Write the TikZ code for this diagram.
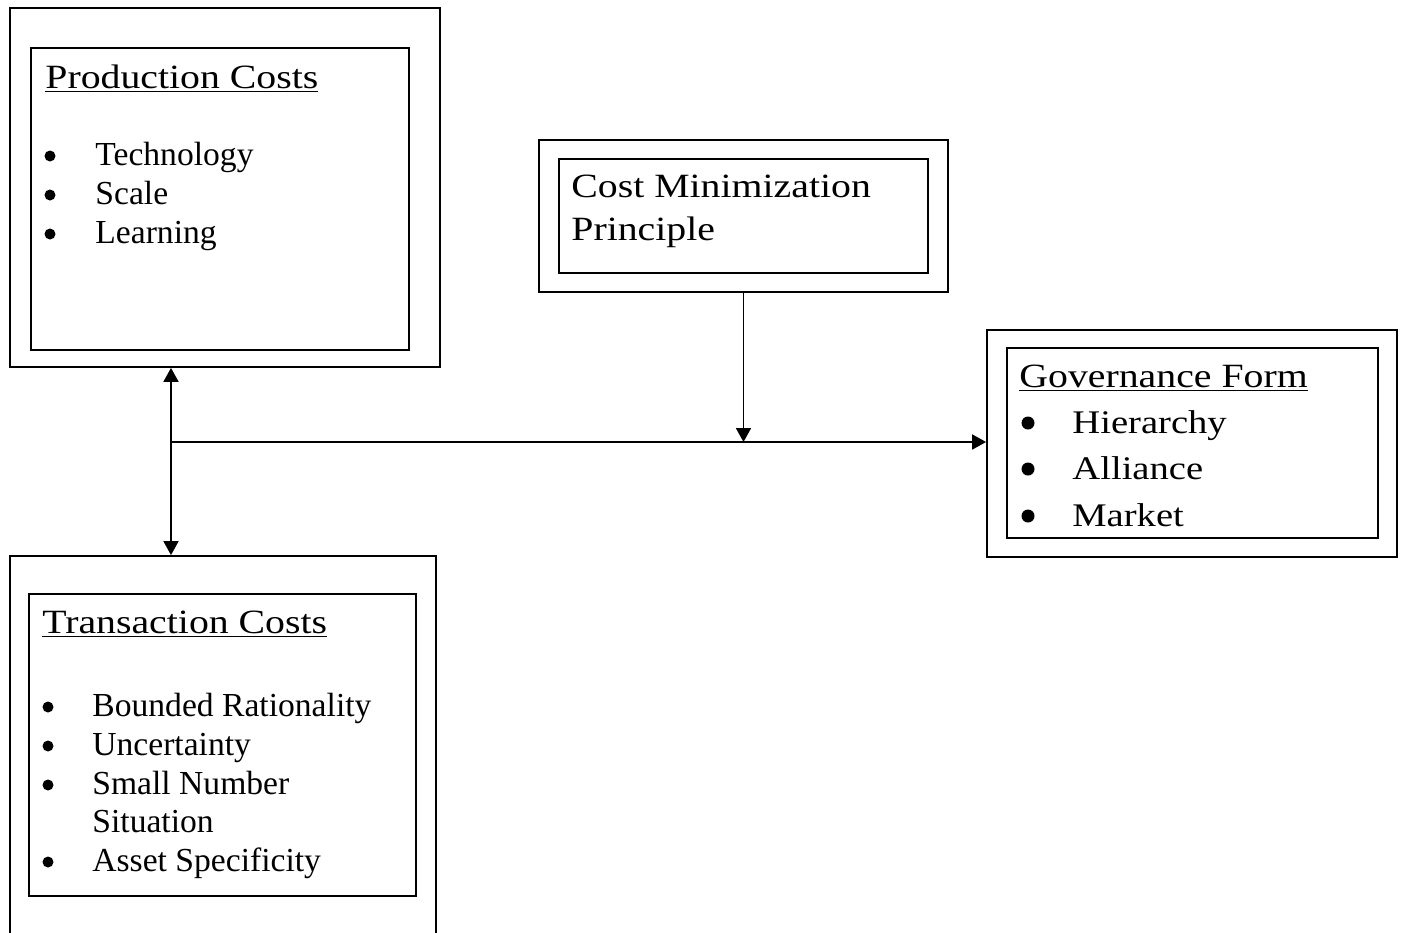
\documentclass[tikz,border=0pt]{standalone}
\usepackage{fontspec}
\setmainfont{Liberation Serif}
\newfontfamily\widefont[FakeStretch=1.17]{Liberation Serif}
\usetikzlibrary{arrows.meta}

\tikzset{
  box/.style={draw, line width=0.9pt, inner sep=0pt},
  ttl/.style={anchor=base west, inner sep=0pt, font=\widefont\fontsize{17}{20}\selectfont},
  itm/.style={anchor=base west, inner sep=0pt, font=\fontsize{16.8}{20}\selectfont},
  bigitm/.style={anchor=base west, inner sep=0pt, font=\widefont\fontsize{16.5}{20}\selectfont},
  link/.style={line width=0.9pt},
  >={Triangle[width=7.5pt,length=7pt]}
}

\begin{document}
\begin{tikzpicture}[x=0.5pt,y=-0.5pt]
\useasboundingbox (0,0) rectangle (1402,932);
\clip (0,0) rectangle (1402,932);

% frames
\node[box, minimum width=215pt, minimum height=179.5pt] (prodOut) at (225,187.5) {};
\node[box, minimum width=189pt, minimum height=151pt] (prodIn) at (220,199) {};

\node[box, minimum width=213pt, minimum height=202pt] (transOut) at (223,758) {};
\node[box, minimum width=193.5pt, minimum height=151pt] (transIn) at (222.5,745) {};

\node[box, minimum width=204.5pt, minimum height=76pt] (costOut) at (743.5,216) {};
\node[box, minimum width=184.5pt, minimum height=57pt] (costIn) at (743.5,216) {};

\node[box, minimum width=205pt, minimum height=113.5pt] (govOut) at (1192,443.5) {};
\node[box, minimum width=185.5pt, minimum height=95pt] (govIn) at (1192.5,443) {};

% texts
\node[ttl] (prodTitle) at (45,88) {\underline{Production Costs}};
\foreach \y/\t [count=\i] in {165/Technology, 204/Scale, 243/Learning} {
  \node[itm] (prod\i) at (95,\y) {\t};
  \fill (prod\i.base west) ++(-45,-9) circle (2.75pt);
}

\node[ttl] (transTitle) at (42,633) {\underline{Transaction Costs}};
\foreach \y/\t [count=\i] in {716/Bounded Rationality, 755/Uncertainty, 794/Small Number} {
  \node[itm] (trans\i) at (92,\y) {\t};
  \fill (trans\i.base west) ++(-44,-9) circle (2.75pt);
}
\node[itm] (trans4) at (92,832) {Situation};
\node[itm] (trans5) at (92,871) {Asset Specificity};
\fill (trans5.base west) ++(-44,-9) circle (2.75pt);

\node[ttl] (costA) at (571,197) {Cost Minimization};
\node[ttl] (costB) at (571,240) {Principle};

\node[ttl] (govTitle) at (1019,387) {\underline{Governance Form}};
\foreach \y/\t [count=\i] in {433/Hierarchy, 479/Alliance, 526/Market} {
  \node[bigitm] (gov\i) at (1072,\y) {\t};
  \fill (gov\i.base west) ++(-44,-10) circle (3.25pt);
}

% connectors
\coordinate (jn) at (171,442);
\draw[link,<->] (jn |- prodOut.south) -- (jn |- transOut.north);
\draw[link,->] (jn) -- (jn -| govOut.west);
\draw[link,->] (costOut.south) -- (costOut.south |- jn);
\end{tikzpicture}
\end{document}
